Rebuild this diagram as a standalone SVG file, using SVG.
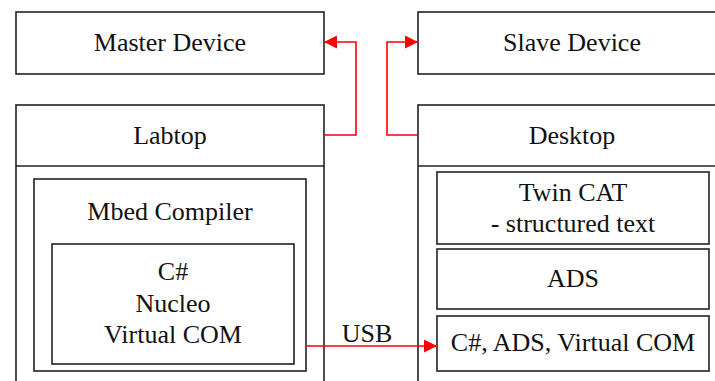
<svg xmlns="http://www.w3.org/2000/svg" width="715" height="381" viewBox="0 0 715 381">
<defs>
<style>
.b{fill:#fff;stroke:#222;stroke-width:1.6}
.t{font-size:26px;fill:#111;text-anchor:middle}
.c{fill:none;stroke:#f00;stroke-width:1.6}
</style>
<marker id="ah" viewBox="0 0 10 10" refX="10" refY="5" markerWidth="16" markerHeight="13" markerUnits="userSpaceOnUse" orient="auto">
<path d="M0,0 L10,5 L0,10 Z" fill="#f00"/>
</marker>
</defs>
<rect width="715" height="381" fill="#fff"/>
<g font-family="'Liberation Serif', 'DejaVu Serif', serif">
<g id="master"><rect class="b" x="16" y="12" width="308" height="62"/><text class="t" x="170" y="51">Master Device</text></g>
<g id="slave"><rect class="b" x="418" y="12" width="310" height="62"/><text class="t" x="572" y="51">Slave Device</text></g>
<g id="labtop"><rect class="b" x="16" y="105" width="308" height="290"/><line class="b" x1="16" y1="166" x2="324" y2="166"/><text class="t" x="170" y="144">Labtop</text></g>
<g id="desktop"><rect class="b" x="418" y="105" width="310" height="290"/><line class="b" x1="418" y1="166" x2="728" y2="166"/><text class="t" x="572" y="144">Desktop</text></g>
<g id="mbed"><rect class="b" x="34" y="179" width="272" height="192"/><text class="t" x="170" y="220">Mbed Compiler</text></g>
<g id="nucleo"><rect class="b" x="52" y="244" width="242" height="120"/><text class="t" x="173" y="280">C#</text><text class="t" x="173" y="312">Nucleo</text><text class="t" x="173" y="343">Virtual COM</text></g>
<g id="twincat"><rect class="b" x="437" y="172" width="272" height="72"/><text class="t" x="573" y="201">Twin CAT</text><text class="t" x="573" y="232">- structured text</text></g>
<g id="ads"><rect class="b" x="437" y="249" width="272" height="60"/><text class="t" x="573" y="287">ADS</text></g>
<g id="csharp"><rect class="b" x="437" y="316" width="272" height="55"/><text class="t" x="573" y="351">C#, ADS, Virtual COM</text></g>
<g id="connectors">
<polyline class="c" points="324,135 356,135 356,42 324,42" marker-end="url(#ah)"/>
<polyline class="c" points="418,135 387,135 387,42 418,42" marker-end="url(#ah)"/>
<line class="c" x1="306" y1="346" x2="437" y2="346" marker-end="url(#ah)"/>
<text class="t" x="367" y="342">USB</text>
</g>
</g>
</svg>
